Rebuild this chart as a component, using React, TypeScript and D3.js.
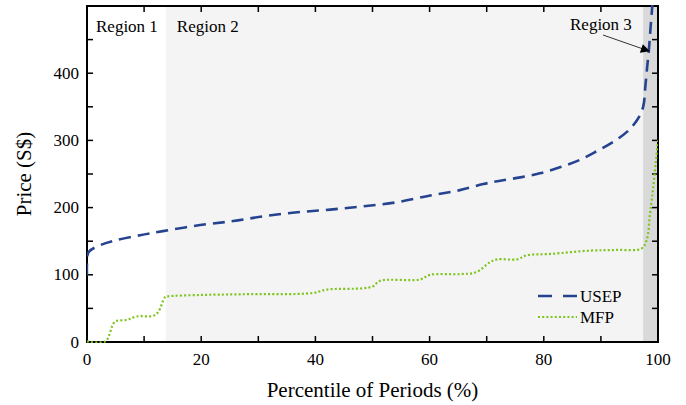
import React, { useEffect, useRef } from "react";
import * as d3 from "d3";

// percentile of periods (%) and price (S$)
const usepPct = [0, 0, 0.3, 2.3, 4.9, 9.3, 13.3, 19.8, 25.6, 30.9, 36.8, 42.6, 48.4, 54.3, 60.1, 65.3, 69.4, 72.4, 75.9, 79.3, 82.8, 86.3, 89.3, 92.2, 94.6, 96.4, 97.4, 97.8, 98.1, 98.4, 98.7, 99, 99.15];
const usepPrice = [99, 117, 134, 144, 151, 159, 165, 174, 180, 187, 193, 197, 202, 208, 218, 226, 235, 240, 245, 251, 260, 271, 284, 298, 313, 331, 350, 382, 409, 434, 468, 500, 520];

const mfpPct = [0, 3.2, 4.9, 7, 8.7, 11.6, 12.5, 13.7, 14.2, 19.8, 26.8, 39.6, 42, 48.4, 50.1, 51.3, 58.3, 60.1, 65.3, 68.2, 70.6, 71.8, 75.3, 77, 81.1, 88.1, 92.8, 97.1, 98, 98.6, 98.9, 99.3, 100];
const mfpPrice = [1, 1, 30, 33, 38, 39, 45, 67, 68, 70, 71, 73, 78, 80, 83, 91, 93, 100, 101, 104, 119, 123, 123, 129, 131, 136, 137, 139, 151, 191, 211, 241, 300];

const regionBounds = [0, 13.8, 97.4, 100];
const regionFills = ["#ffffff", "#f4f4f4", "#d9d9d9"];
const regionLabels = ["Region 1", "Region 2", "Region 3"];

const xTicks = [0, 20, 40, 60, 80, 100];
const yTicks = [0, 100, 200, 300, 400];
const region3Point = { pct: 98.4, price: 434 };

const seriesNames = ["USEP", "MFP"];
const seriesColors = ["#26438f", "#7dc41b"];

const W = 686;
const H = 405;
const FONT = "Liberation Serif, DejaVu Serif, serif";

export default function App() {
  const svgRef = useRef<SVGSVGElement>(null);

  useEffect(() => {
    const svg = d3.select(svgRef.current);
    svg.selectAll("*").remove();

    const margin = { top: 6, right: 28, bottom: 63, left: 87 };
    const width = W - margin.left - margin.right;
    const height = H - margin.top - margin.bottom;

    const x = d3.scaleLinear().domain([0, 100]).range([0, width]);
    const y = d3.scaleLinear().domain([0, 500]).range([height, 0]);

    const g = svg.append("g").attr("transform", `translate(${margin.left},${margin.top})`);

    svg.append("defs").append("clipPath").attr("id", "plotclip")
      .append("rect").attr("y", -1).attr("width", width).attr("height", height + 2);

    // shaded regions
    regionFills.forEach((fill, i) => {
      g.append("rect")
        .attr("x", x(regionBounds[i]))
        .attr("y", 0)
        .attr("width", x(regionBounds[i + 1]) - x(regionBounds[i]))
        .attr("height", height)
        .attr("fill", fill);
    });

    // axes with inward ticks on all four sides
    const minorX = d3.range(0, 101, 10);
    const minorY = d3.range(0, 501, 50);
    const tickG = g.append("g").attr("stroke", "#000").attr("stroke-width", 1.5);
    minorX.forEach((v) => {
      if (v === 0 || v === 100) return;
      tickG.append("line").attr("x1", x(v)).attr("x2", x(v)).attr("y1", height).attr("y2", height - 6);
      tickG.append("line").attr("x1", x(v)).attr("x2", x(v)).attr("y1", 0).attr("y2", 6);
    });
    minorY.forEach((v) => {
      if (v === 0 || v === 500) return;
      tickG.append("line").attr("x1", 0).attr("x2", 6).attr("y1", y(v)).attr("y2", y(v));
      tickG.append("line").attr("x1", width).attr("x2", width - 6).attr("y1", y(v)).attr("y2", y(v));
    });

    g.append("rect")
      .attr("width", width)
      .attr("height", height)
      .attr("fill", "none")
      .attr("stroke", "#000")
      .attr("stroke-width", 2);

    const line = d3.line<[number, number]>()
      .x((d) => x(d[0]))
      .y((d) => y(d[1]))
      .curve(d3.curveCatmullRom.alpha(0.5));

    const plot = g.append("g").attr("clip-path", "url(#plotclip)");

    plot.append("path")
      .datum(mfpPct.map((p, i) => [p, mfpPrice[i]] as [number, number]))
      .attr("fill", "none")
      .attr("stroke", seriesColors[1])
      .attr("stroke-width", 2.2)
      .attr("stroke-dasharray", "2,2.2")
      .attr("d", line);

    plot.append("path")
      .datum(usepPct.map((p, i) => [p, usepPrice[i]] as [number, number]))
      .attr("fill", "none")
      .attr("stroke", seriesColors[0])
      .attr("stroke-width", 2.6)
      .attr("stroke-dasharray", "12,7")
      .attr("d", line);

    g.selectAll(".xl").data(xTicks).enter().append("text")
      .attr("x", (d) => x(d))
      .attr("y", height + 23)
      .attr("text-anchor", "middle")
      .attr("font-size", 17)
      .text((d) => d);

    g.selectAll(".yl").data(yTicks).enter().append("text")
      .attr("x", -8)
      .attr("y", (d) => y(d) + 5.5)
      .attr("text-anchor", "end")
      .attr("font-size", 17)
      .text((d) => d);

    g.append("text")
      .attr("x", width / 2)
      .attr("y", height + 55)
      .attr("text-anchor", "middle")
      .attr("font-size", 21)
      .text("Percentile of Periods (%)");

    svg.append("text")
      .attr("transform", "rotate(-90)")
      .attr("x", -(margin.top + height / 2))
      .attr("y", 31)
      .attr("text-anchor", "middle")
      .attr("font-size", 21)
      .text("Price (S$)");

    // region labels
    g.append("text").attr("x", 9).attr("y", 26).attr("font-size", 17).text(regionLabels[0]);
    g.append("text").attr("x", x(regionBounds[1]) + 11).attr("y", 26).attr("font-size", 17).text(regionLabels[1]);
    g.append("text").attr("x", 483).attr("y", 24).attr("font-size", 17).text(regionLabels[2]);

    // arrow to region 3
    const tipX = x(region3Point.pct) + 1;
    const tipY = y(region3Point.price) + 1;
    const sx = 516, sy = 29;
    const ang = Math.atan2(tipY - sy, tipX - sx);
    g.append("line")
      .attr("x1", sx).attr("y1", sy)
      .attr("x2", tipX - 7 * Math.cos(ang)).attr("y2", tipY - 7 * Math.sin(ang))
      .attr("stroke", "#333").attr("stroke-width", 1);
    const hl = 9, hw = 4.5;
    const bx = tipX - hl * Math.cos(ang), by = tipY - hl * Math.sin(ang);
    g.append("path")
      .attr("d", `M${tipX},${tipY}L${bx - hw * Math.sin(ang)},${by + hw * Math.cos(ang)}L${bx + hw * Math.sin(ang)},${by - hw * Math.cos(ang)}Z`)
      .attr("fill", "#000");

    // legend
    const lg = g.append("g").attr("transform", `translate(${451},${290})`);
    seriesNames.forEach((name, i) => {
      const ly = i * 21;
      lg.append("line")
        .attr("x1", 0).attr("x2", 39).attr("y1", ly).attr("y2", ly)
        .attr("stroke", seriesColors[i])
        .attr("stroke-width", i === 0 ? 2.6 : 2.2)
        .attr("stroke-dasharray", i === 0 ? "14,11" : "2,2.2");
      lg.append("text")
        .attr("x", 42).attr("y", ly + 5.5)
        .attr("font-size", 17)
        .text(name);
    });
  }, []);

  return (
    <svg
      ref={svgRef}
      width={W}
      height={H}
      fontFamily={FONT}
      style={{ position: "absolute", left: 0, top: 0, background: "#fff", fontFamily: FONT }}
    />
  );
}
